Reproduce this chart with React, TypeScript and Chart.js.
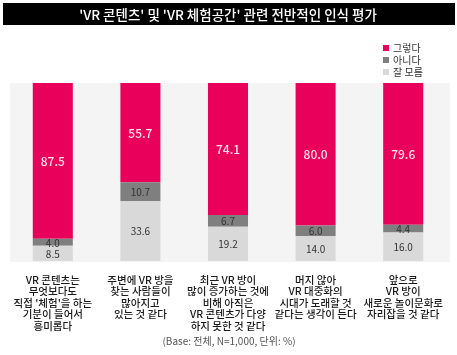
import React, { useEffect, useRef } from "react";
import { Chart, registerables } from "chart.js";

Chart.register(...registerables);

const TITLE = "'VR 콘텐츠' 및 'VR 체험공간' 관련 전반적인 인식 평가";
const FOOTER = "(Base: 전체, N=1,000, 단위: %)";

const categories: string[][] = [
  ["VR 콘텐츠는", "무엇보다도", "직접 '체험'을 하는", "기분이 들어서", "흥미롭다"],
  ["주변에 VR 방을", "찾는 사람들이", "많아지고", "있는 것 같다"],
  ["최근 VR 방이", "많이 증가하는 것에", "비해 아직은", "VR 콘텐츠가 다양", "하지 못한 것 같다"],
  ["머지 않아", "VR 대중화의", "시대가 도래할 것", "같다는 생각이 든다"],
  ["앞으로", "VR 방이", "새로운 놀이문화로", "자리잡을 것 같다"],
];

const yesValues = [87.5, 55.7, 74.1, 80.0, 79.6];
const noValues = [4.0, 10.7, 6.7, 6.0, 4.4];
const dkValues = [8.5, 33.6, 19.2, 14.0, 16.0];

const seriesLabels = ["그렇다", "아니다", "잘 모름"];
const PINK = "#e8005a";
const DARK = "#7f7f7f";
const LIGHT = "#d9d9d9";

const FONT = "'Noto Sans CJK KR', 'Noto Sans', sans-serif";

const decorPlugin = {
  id: "decor",
  beforeDraw(chart: any) {
    const { ctx, chartArea } = chart;
    ctx.save();
    ctx.fillStyle = "#ffffff";
    ctx.fillRect(0, 0, chart.width, chart.height);
    // title bar
    ctx.fillStyle = "#000000";
    ctx.fillRect(3, 3, 452, 22);
    ctx.fillStyle = "#ffffff";
    ctx.font = `500 13.5px ${FONT}`;
    ctx.textAlign = "center";
    ctx.textBaseline = "middle";
    ctx.fillText(TITLE, 228, 14.5);
    // plot background
    ctx.fillStyle = "#f4f4f4";
    ctx.fillRect(10, chartArea.top, 440, chartArea.bottom - chartArea.top + 1);
    // legend (top to bottom: 그렇다, 아니다, 잘 모름)
    const colors = [PINK, DARK, LIGHT];
    ctx.font = `10px ${FONT}`;
    ctx.textAlign = "left";
    for (let i = 0; i < 3; i++) {
      const y = 48 + i * 12;
      ctx.fillStyle = colors[i];
      ctx.fillRect(383, y - 3, 6, 6);
      ctx.fillStyle = "#333333";
      ctx.fillText(seriesLabels[i], 393, y);
    }
    // footer
    ctx.fillStyle = "#555555";
    ctx.font = `10px ${FONT}`;
    ctx.textAlign = "center";
    ctx.fillText(FOOTER, 229, 341);
    ctx.restore();
  },
  afterDatasetsDraw(chart: any) {
    const { ctx } = chart;
    ctx.save();
    ctx.textAlign = "center";
    ctx.textBaseline = "middle";
    chart.data.datasets.forEach((ds: any, di: number) => {
      const meta = chart.getDatasetMeta(di);
      meta.data.forEach((bar: any, i: number) => {
        const v = ds.data[i];
        const cy = (bar.y + bar.base) / 2;
        if (ds.label === "그렇다") {
          ctx.fillStyle = "#ffe0ec";
          ctx.font = `500 12px ${FONT}`;
        } else {
          ctx.fillStyle = "#333333";
          ctx.font = `10px ${FONT}`;
        }
        ctx.fillText(v.toFixed(1), bar.x, cy + 0.5);
      });
    });
    ctx.restore();
  },
};

export default function App() {
  const ref = useRef<HTMLCanvasElement | null>(null);
  useEffect(() => {
    if (!ref.current) return;
    const chart = new Chart(ref.current, {
      type: "bar",
      data: {
        labels: categories,
        datasets: [
          { label: "잘 모름", data: dkValues, backgroundColor: LIGHT },
          { label: "아니다", data: noValues, backgroundColor: DARK },
          { label: "그렇다", data: yesValues, backgroundColor: PINK },
        ],
      },
      options: {
        animation: false,
        responsive: false,
        devicePixelRatio: 1,
        layout: { padding: { top: 83, left: 9, right: 10, bottom: 14 } },
        plugins: {
          legend: { display: false },
          tooltip: { enabled: false },
          title: { display: false },
        },
        datasets: { bar: { barPercentage: 0.457, categoryPercentage: 1 } },
        scales: {
          x: {
            stacked: true,
            grid: { display: false },
            border: { display: false },
            ticks: {
              color: "#1a1a1a",
              font: { family: FONT, size: 10.5, weight: "500", lineHeight: 1.1 },
              padding: 5,
              maxRotation: 0,
              autoSkip: false,
            },
            afterFit: (scale: any) => {
              scale.height = 80;
            },
          },
          y: {
            stacked: true,
            display: false,
            min: 0,
            max: 100,
          },
        },
      },
      plugins: [decorPlugin],
    } as any);
    return () => chart.destroy();
  }, []);
  return (
    <div style={{ position: "absolute", left: 0, top: 0, width: 457, height: 355 }}>
      <canvas ref={ref} width={457} height={355} />
    </div>
  );
}
